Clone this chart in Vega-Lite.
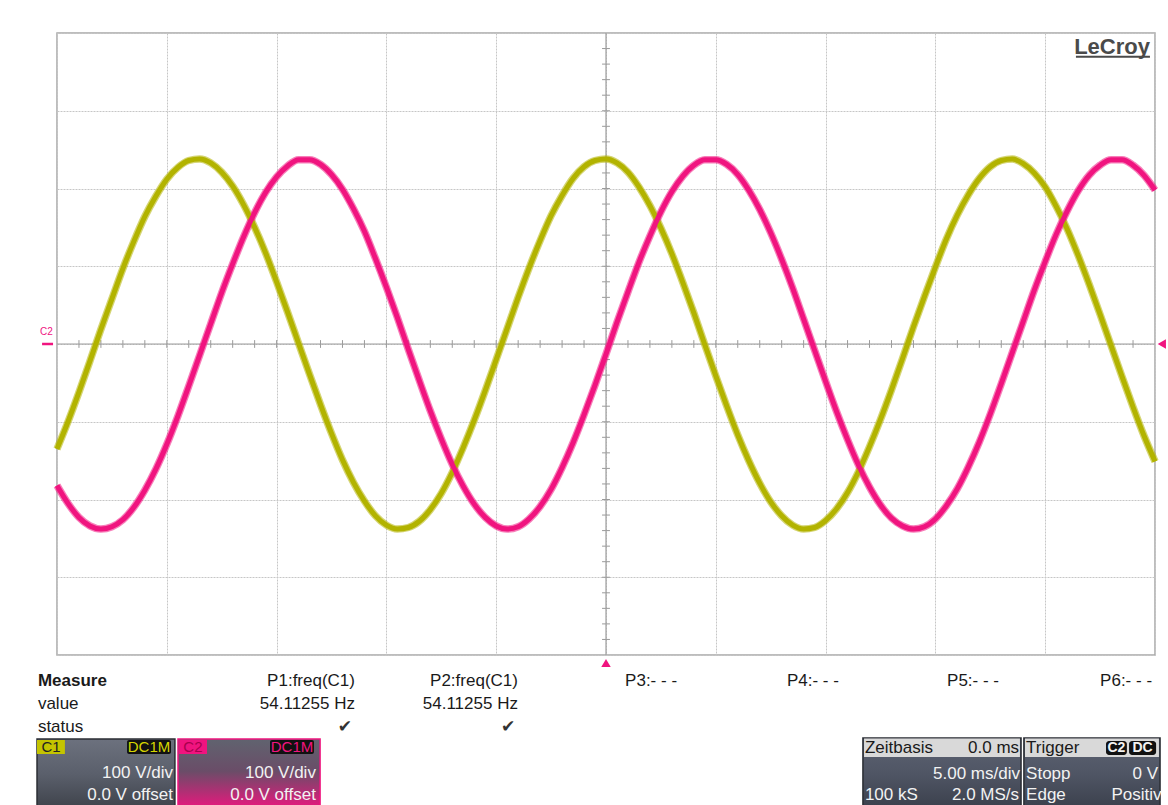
{
  "$schema": "https://vega.github.io/schema/vega-lite/v6.json",
  "autosize": {"type": "none"},
  "width": 1098,
  "height": 622,
  "padding": {"left": 57, "top": 33, "right": 13, "bottom": 150},
  "background": "white",
  "config": {
    "view": {"stroke": "#a8a8a8", "strokeWidth": 1.5},
    "text": {"font": "Liberation Sans", "fontSize": 17, "baseline": "middle", "color": "#1a1a1a"}
  },
  "layer": [
    {
      "data": {"values": [{"t": -24}, {"t": -23}, {"t": -22}, {"t": -21}, {"t": -20}, {"t": -19}, {"t": -18}, {"t": -17}, {"t": -16}, {"t": -15}, {"t": -14}, {"t": -13}, {"t": -12}, {"t": -11}, {"t": -10}, {"t": -9}, {"t": -8}, {"t": -7}, {"t": -6}, {"t": -5}, {"t": -4}, {"t": -3}, {"t": -2}, {"t": -1}, {"t": 1}, {"t": 2}, {"t": 3}, {"t": 4}, {"t": 5}, {"t": 6}, {"t": 7}, {"t": 8}, {"t": 9}, {"t": 10}, {"t": 11}, {"t": 12}, {"t": 13}, {"t": 14}, {"t": 15}, {"t": 16}, {"t": 17}, {"t": 18}, {"t": 19}, {"t": 20}, {"t": 21}, {"t": 22}, {"t": 23}, {"t": 24}]},
      "mark": {"type": "rule", "color": "#9a9a9a", "strokeWidth": 1},
      "encoding": {
        "x": {"field": "t", "type": "quantitative", "scale": {"domain": [-25, 25], "nice": false, "zero": false},
          "axis": {"values": [-25, -20, -15, -10, -5, 0, 5, 10, 15, 20, 25], "grid": true, "labels": false, "ticks": false, "domain": false, "title": null, "gridColor": "#c6c6c6", "gridDash": [2, 1], "gridWidth": 1}},
        "y": {"datum": -5, "scale": {"domain": [-400, 400], "nice": false, "zero": false},
          "axis": {"values": [-400, -300, -200, -100, 0, 100, 200, 300, 400], "grid": true, "labels": false, "ticks": false, "domain": false, "title": null, "gridColor": "#c6c6c6", "gridDash": [2, 1], "gridWidth": 1}},
        "y2": {"datum": 5}
      }
    },
    {
      "data": {"values": [{"v": -380}, {"v": -360}, {"v": -340}, {"v": -320}, {"v": -300}, {"v": -280}, {"v": -260}, {"v": -240}, {"v": -220}, {"v": -200}, {"v": -180}, {"v": -160}, {"v": -140}, {"v": -120}, {"v": -100}, {"v": -80}, {"v": -60}, {"v": -40}, {"v": -20}, {"v": 20}, {"v": 40}, {"v": 60}, {"v": 80}, {"v": 100}, {"v": 120}, {"v": 140}, {"v": 160}, {"v": 180}, {"v": 200}, {"v": 220}, {"v": 240}, {"v": 260}, {"v": 280}, {"v": 300}, {"v": 320}, {"v": 340}, {"v": 360}, {"v": 380}]},
      "mark": {"type": "rule", "color": "#9a9a9a", "strokeWidth": 1},
      "encoding": {
        "y": {"field": "v", "type": "quantitative"},
        "x": {"datum": -0.18},
        "x2": {"datum": 0.18}
      }
    },
    {
      "data": {"values": [{"a": 0}]},
      "mark": {"type": "rule", "color": "#9e9e9e", "strokeWidth": 1.2},
      "encoding": {"y": {"field": "a", "type": "quantitative"}, "x": {"datum": -25}, "x2": {"datum": 25}}
    },
    {
      "data": {"values": [{"a": 0}]},
      "mark": {"type": "rule", "color": "#9e9e9e", "strokeWidth": 1.2},
      "encoding": {"x": {"field": "a", "type": "quantitative"}, "y": {"datum": -400}, "y2": {"datum": 400}}
    },
    {
      "data": {"values": [
        {"t": -25, "C1": -135, "C2": -182}, {"t": -24.5, "C1": -100, "C2": -205}, {"t": -24, "C1": -62, "C2": -223}, {"t": -23.5, "C1": -22, "C2": -234}, {"t": -23, "C1": 19, "C2": -238},
        {"t": -22.5, "C1": 58, "C2": -235}, {"t": -22, "C1": 97, "C2": -226}, {"t": -21.5, "C1": 132, "C2": -210}, {"t": -21, "C1": 164, "C2": -188}, {"t": -20.5, "C1": 190, "C2": -161},
        {"t": -20, "C1": 212, "C2": -129}, {"t": -19.5, "C1": 227, "C2": -93}, {"t": -19, "C1": 236, "C2": -54}, {"t": -18.5, "C1": 238, "C2": -14}, {"t": -18, "C1": 233, "C2": 26},
        {"t": -17.5, "C1": 221, "C2": 66}, {"t": -17, "C1": 203, "C2": 103}, {"t": -16.5, "C1": 179, "C2": 138}, {"t": -16, "C1": 150, "C2": 169}, {"t": -15.5, "C1": 117, "C2": 195},
        {"t": -15, "C1": 80, "C2": 215}, {"t": -14.5, "C1": 41, "C2": 229}, {"t": -14, "C1": 1, "C2": 237}, {"t": -13.5, "C1": -39, "C2": 237}, {"t": -13, "C1": -78, "C2": 231},
        {"t": -12.5, "C1": -115, "C2": 218}, {"t": -12, "C1": -149, "C2": 199}, {"t": -11.5, "C1": -178, "C2": 174}, {"t": -11, "C1": -202, "C2": 145}, {"t": -10.5, "C1": -221, "C2": 110},
        {"t": -10, "C1": -233, "C2": 73}, {"t": -9.5, "C1": -238, "C2": 34}, {"t": -9, "C1": -236, "C2": -7}, {"t": -8.5, "C1": -228, "C2": -47}, {"t": -8, "C1": -213, "C2": -86},
        {"t": -7.5, "C1": -192, "C2": -122}, {"t": -7, "C1": -165, "C2": -155}, {"t": -6.5, "C1": -133, "C2": -183}, {"t": -6, "C1": -98, "C2": -206}, {"t": -5.5, "C1": -60, "C2": -223},
        {"t": -5, "C1": -20, "C2": -234}, {"t": -4.5, "C1": 20, "C2": -238}, {"t": -4, "C1": 60, "C2": -235}, {"t": -3.5, "C1": 98, "C2": -225}, {"t": -3, "C1": 133, "C2": -209},
        {"t": -2.5, "C1": 165, "C2": -187}, {"t": -2, "C1": 191, "C2": -159}, {"t": -1.5, "C1": 213, "C2": -127}, {"t": -1, "C1": 228, "C2": -91}, {"t": -0.5, "C1": 236, "C2": -53},
        {"t": 0, "C1": 238, "C2": -13}, {"t": 0.5, "C1": 233, "C2": 28}, {"t": 1, "C1": 221, "C2": 67}, {"t": 1.5, "C1": 202, "C2": 105}, {"t": 2, "C1": 178, "C2": 139},
        {"t": 2.5, "C1": 149, "C2": 170}, {"t": 3, "C1": 116, "C2": 196}, {"t": 3.5, "C1": 79, "C2": 216}, {"t": 4, "C1": 40, "C2": 230}, {"t": 4.5, "C1": -1, "C2": 237},
        {"t": 5, "C1": -41, "C2": 237}, {"t": 5.5, "C1": -80, "C2": 231}, {"t": 6, "C1": -117, "C2": 218}, {"t": 6.5, "C1": -150, "C2": 198}, {"t": 7, "C1": -179, "C2": 173},
        {"t": 7.5, "C1": -203, "C2": 143}, {"t": 8, "C1": -221, "C2": 109}, {"t": 8.5, "C1": -233, "C2": 72}, {"t": 9, "C1": -238, "C2": 32}, {"t": 9.5, "C1": -236, "C2": -8},
        {"t": 10, "C1": -227, "C2": -48}, {"t": 10.5, "C1": -212, "C2": -87}, {"t": 11, "C1": -191, "C2": -123}, {"t": 11.5, "C1": -164, "C2": -156}, {"t": 12, "C1": -132, "C2": -184},
        {"t": 12.5, "C1": -97, "C2": -207}, {"t": 13, "C1": -59, "C2": -224}, {"t": 13.5, "C1": -19, "C2": -234}, {"t": 14, "C1": 22, "C2": -238}, {"t": 14.5, "C1": 61, "C2": -235},
        {"t": 15, "C1": 99, "C2": -225}, {"t": 15.5, "C1": 135, "C2": -208}, {"t": 16, "C1": 166, "C2": -186}, {"t": 16.5, "C1": 192, "C2": -158}, {"t": 17, "C1": 213, "C2": -126},
        {"t": 17.5, "C1": 228, "C2": -90}, {"t": 18, "C1": 236, "C2": -51}, {"t": 18.5, "C1": 238, "C2": -11}, {"t": 19, "C1": 232, "C2": 29}, {"t": 19.5, "C1": 220, "C2": 69},
        {"t": 20, "C1": 202, "C2": 106}, {"t": 20.5, "C1": 177, "C2": 141}, {"t": 21, "C1": 148, "C2": 171}, {"t": 21.5, "C1": 114, "C2": 197}, {"t": 22, "C1": 77, "C2": 217},
        {"t": 22.5, "C1": 38, "C2": 230}, {"t": 23, "C1": -2, "C2": 237}, {"t": 23.5, "C1": -42, "C2": 237}, {"t": 24, "C1": -81, "C2": 230}, {"t": 24.5, "C1": -118, "C2": 217},
        {"t": 25, "C1": -151, "C2": 198}
      ]},
      "transform": [{"fold": ["C1", "C2"], "as": ["ch", "v"]}],
      "encoding": {
        "x": {"field": "t", "type": "quantitative"},
        "y": {"field": "v", "type": "quantitative"},
        "color": {"field": "ch", "type": "nominal", "scale": {"domain": ["C1", "C2"], "range": ["#b2b300", "#f0147f"]}, "legend": null},
        "order": {"field": "t", "type": "quantitative"}
      },
      "layer": [
        {"mark": {"type": "line", "strokeWidth": 7.5, "interpolate": "monotone", "strokeCap": "butt", "opacity": 0.55}},
        {"mark": {"type": "line", "strokeWidth": 5, "interpolate": "monotone", "strokeCap": "butt"}}
      ]
    },
    {
      "data": {"values": [{"s": "LeCroy"}]},
      "mark": {"type": "text", "align": "right", "fontSize": 22, "fontWeight": "bold", "color": "#4a4a4a"},
      "encoding": {"x": {"datum": 24.77}, "y": {"datum": 382.4}, "text": {"field": "s", "type": "nominal"}}
    },
    {
      "data": {"values": [{}]},
      "mark": {"type": "rule", "color": "#4a4a4a", "strokeWidth": 2},
      "encoding": {"x": {"datum": 21.4}, "x2": {"datum": 24.77}, "y": {"datum": 369.5}}
    },
    {
      "data": {"values": [{"s": "C2"}]},
      "mark": {"type": "text", "align": "center", "fontSize": 10, "color": "#f0147f"},
      "encoding": {"x": {"datum": -25.48}, "y": {"datum": 14.8}, "text": {"field": "s", "type": "nominal"}}
    },
    {
      "data": {"values": [{}]},
      "mark": {"type": "rule", "color": "#f0147f", "strokeWidth": 2.5},
      "encoding": {"x": {"datum": -25.68}, "x2": {"datum": -25.18}, "y": {"datum": 0}}
    },
    {
      "data": {"values": [{}]},
      "mark": {"type": "point", "shape": "triangle-left", "filled": true, "size": 90, "color": "#f0147f", "opacity": 1},
      "encoding": {"x": {"datum": 25.31}, "y": {"datum": 0}}
    },
    {
      "data": {"values": [{}]},
      "mark": {"type": "point", "shape": "triangle-up", "filled": true, "size": 90, "color": "#f0147f", "opacity": 1},
      "encoding": {"x": {"datum": 0}, "y": {"datum": -410.3}}
    },
    {
      "data": {"values": [{"s": "Measure"}]},
      "mark": {"type": "text", "align": "left", "fontWeight": "bold"},
      "encoding": {"x": {"datum": -25.87}, "y": {"datum": -433.4}, "text": {"field": "s", "type": "nominal"}}
    },
    {
      "data": {"values": [{"s": "value"}]},
      "mark": {"type": "text", "align": "left"},
      "encoding": {"x": {"datum": -25.87}, "y": {"datum": -463}, "text": {"field": "s", "type": "nominal"}}
    },
    {
      "data": {"values": [{"s": "status"}]},
      "mark": {"type": "text", "align": "left"},
      "encoding": {"x": {"datum": -25.87}, "y": {"datum": -492.6}, "text": {"field": "s", "type": "nominal"}}
    },
    {
      "data": {"values": [{"s": "P1:freq(C1)"}]},
      "mark": {"type": "text", "align": "right"},
      "encoding": {"x": {"datum": -11.43}, "y": {"datum": -433.4}, "text": {"field": "s", "type": "nominal"}}
    },
    {
      "data": {"values": [{"s": "54.11255 Hz"}]},
      "mark": {"type": "text", "align": "right"},
      "encoding": {"x": {"datum": -11.43}, "y": {"datum": -463}, "text": {"field": "s", "type": "nominal"}}
    },
    {
      "data": {"values": [{"s": "✔"}]},
      "mark": {"type": "text", "align": "center", "font": "DejaVu Sans", "fontSize": 17, "color": "#333333"},
      "encoding": {"x": {"datum": -11.89}, "y": {"datum": -492.6}, "text": {"field": "s", "type": "nominal"}}
    },
    {
      "data": {"values": [{"s": "P2:freq(C1)"}]},
      "mark": {"type": "text", "align": "right"},
      "encoding": {"x": {"datum": -4.01}, "y": {"datum": -433.4}, "text": {"field": "s", "type": "nominal"}}
    },
    {
      "data": {"values": [{"s": "54.11255 Hz"}]},
      "mark": {"type": "text", "align": "right"},
      "encoding": {"x": {"datum": -4.01}, "y": {"datum": -463}, "text": {"field": "s", "type": "nominal"}}
    },
    {
      "data": {"values": [{"s": "✔"}]},
      "mark": {"type": "text", "align": "center", "font": "DejaVu Sans", "fontSize": 17, "color": "#333333"},
      "encoding": {"x": {"datum": -4.46}, "y": {"datum": -492.6}, "text": {"field": "s", "type": "nominal"}}
    },
    {
      "data": {"values": [{"s": "P3:- - -"}]},
      "mark": {"type": "text", "align": "left"},
      "encoding": {"x": {"datum": 0.87}, "y": {"datum": -433.4}, "text": {"field": "s", "type": "nominal"}}
    },
    {
      "data": {"values": [{"s": "P4:- - -"}]},
      "mark": {"type": "text", "align": "left"},
      "encoding": {"x": {"datum": 8.24}, "y": {"datum": -433.4}, "text": {"field": "s", "type": "nominal"}}
    },
    {
      "data": {"values": [{"s": "P5:- - -"}]},
      "mark": {"type": "text", "align": "left"},
      "encoding": {"x": {"datum": 15.53}, "y": {"datum": -433.4}, "text": {"field": "s", "type": "nominal"}}
    },
    {
      "data": {"values": [{"s": "P6:- - -"}]},
      "mark": {"type": "text", "align": "left"},
      "encoding": {"x": {"datum": 22.5}, "y": {"datum": -433.4}, "text": {"field": "s", "type": "nominal"}}
    },
    {
      "data": {"values": [{}]},
      "mark": {"type": "rect", "stroke": "#2a2d33", "strokeWidth": 1.5,
        "fill": {"gradient": "linear", "x1": 0, "y1": 0, "x2": 0, "y2": 1, "stops": [{"offset": 0, "color": "#6c717e"}, {"offset": 0.5, "color": "#5a5f6b"}, {"offset": 1, "color": "#3d4149"}]}},
      "encoding": {"x": {"datum": -25.91}, "x2": {"datum": -19.63}, "y": {"datum": -508}, "y2": {"datum": -600}}
    },
    {
      "data": {"values": [{}]},
      "mark": {"type": "rect", "stroke": "#f0147f", "strokeWidth": 1.5,
        "fill": {"gradient": "linear", "x1": 0, "y1": 0, "x2": 0, "y2": 1, "stops": [{"offset": 0, "color": "#60636f"}, {"offset": 0.45, "color": "#6a4d68"}, {"offset": 1, "color": "#f0147f"}]}},
      "encoding": {"x": {"datum": -19.49}, "x2": {"datum": -13.02}, "y": {"datum": -508}, "y2": {"datum": -600}}
    },
    {
      "data": {"values": [{}]},
      "mark": {"type": "rect", "fill": "#c4c400"},
      "encoding": {"x": {"datum": -25.91}, "x2": {"datum": -24.64}, "y": {"datum": -509.3}, "y2": {"datum": -527.3}}
    },
    {
      "data": {"values": [{"s": "C1"}]},
      "mark": {"type": "text", "align": "center", "fontSize": 15, "color": "#222222"},
      "encoding": {"x": {"datum": -25.27}, "y": {"datum": -518.3}, "text": {"field": "s", "type": "nominal"}}
    },
    {
      "data": {"values": [{}]},
      "mark": {"type": "rect", "fill": "#111111", "cornerRadius": 2},
      "encoding": {"x": {"datum": -21.81}, "x2": {"datum": -19.81}, "y": {"datum": -509.3}, "y2": {"datum": -527.3}}
    },
    {
      "data": {"values": [{"s": "DC1M"}]},
      "mark": {"type": "text", "align": "center", "fontSize": 15, "color": "#d6d600"},
      "encoding": {"x": {"datum": -20.81}, "y": {"datum": -518.3}, "text": {"field": "s", "type": "nominal"}}
    },
    {
      "data": {"values": [{"s": "100 V/div"}]},
      "mark": {"type": "text", "align": "right", "color": "#f2f2f2"},
      "encoding": {"x": {"datum": -19.72}, "y": {"datum": -551.8}, "text": {"field": "s", "type": "nominal"}}
    },
    {
      "data": {"values": [{"s": "0.0 V offset"}]},
      "mark": {"type": "text", "align": "right", "color": "#f2f2f2"},
      "encoding": {"x": {"datum": -19.72}, "y": {"datum": -580.1}, "text": {"field": "s", "type": "nominal"}}
    },
    {
      "data": {"values": [{}]},
      "mark": {"type": "rect", "fill": "#f0147f"},
      "encoding": {"x": {"datum": -19.44}, "x2": {"datum": -18.17}, "y": {"datum": -509.3}, "y2": {"datum": -527.3}}
    },
    {
      "data": {"values": [{"s": "C2"}]},
      "mark": {"type": "text", "align": "center", "fontSize": 15, "color": "#a8004e"},
      "encoding": {"x": {"datum": -18.81}, "y": {"datum": -518.3}, "text": {"field": "s", "type": "nominal"}}
    },
    {
      "data": {"values": [{}]},
      "mark": {"type": "rect", "fill": "#111111", "cornerRadius": 2},
      "encoding": {"x": {"datum": -15.3}, "x2": {"datum": -13.3}, "y": {"datum": -509.3}, "y2": {"datum": -527.3}}
    },
    {
      "data": {"values": [{"s": "DC1M"}]},
      "mark": {"type": "text", "align": "center", "fontSize": 15, "color": "#f0147f"},
      "encoding": {"x": {"datum": -14.3}, "y": {"datum": -518.3}, "text": {"field": "s", "type": "nominal"}}
    },
    {
      "data": {"values": [{"s": "100 V/div"}]},
      "mark": {"type": "text", "align": "right", "color": "#f2f2f2"},
      "encoding": {"x": {"datum": -13.21}, "y": {"datum": -551.8}, "text": {"field": "s", "type": "nominal"}}
    },
    {
      "data": {"values": [{"s": "0.0 V offset"}]},
      "mark": {"type": "text", "align": "right", "color": "#f2f2f2"},
      "encoding": {"x": {"datum": -13.21}, "y": {"datum": -580.1}, "text": {"field": "s", "type": "nominal"}}
    },
    {
      "data": {"values": [{}]},
      "mark": {"type": "rect", "stroke": "#2a2d33", "strokeWidth": 1.5,
        "fill": {"gradient": "linear", "x1": 0, "y1": 0, "x2": 0, "y2": 1, "stops": [{"offset": 0, "color": "#5d6373"}, {"offset": 0.5, "color": "#4f5564"}, {"offset": 1, "color": "#3a3f4b"}]}},
      "encoding": {"x": {"datum": 11.7}, "x2": {"datum": 18.9}, "y": {"datum": -506.8}, "y2": {"datum": -600}}
    },
    {
      "data": {"values": [{}]},
      "mark": {"type": "rect", "stroke": "#2a2d33", "strokeWidth": 1.5,
        "fill": {"gradient": "linear", "x1": 0, "y1": 0, "x2": 0, "y2": 1, "stops": [{"offset": 0, "color": "#5d6373"}, {"offset": 0.5, "color": "#4f5564"}, {"offset": 1, "color": "#3a3f4b"}]}},
      "encoding": {"x": {"datum": 19.03}, "x2": {"datum": 25.23}, "y": {"datum": -506.8}, "y2": {"datum": -600}}
    },
    {
      "data": {"values": [{}]},
      "mark": {"type": "rect", "fill": "#d9d9d9"},
      "encoding": {"x": {"datum": 11.75}, "x2": {"datum": 18.85}, "y": {"datum": -507.5}, "y2": {"datum": -531.2}}
    },
    {
      "data": {"values": [{}]},
      "mark": {"type": "rect", "fill": "#d9d9d9"},
      "encoding": {"x": {"datum": 19.08}, "x2": {"datum": 25.18}, "y": {"datum": -507.5}, "y2": {"datum": -531.2}}
    },
    {
      "data": {"values": [{"s": "Zeitbasis"}]},
      "mark": {"type": "text", "align": "left"},
      "encoding": {"x": {"datum": 11.79}, "y": {"datum": -519.6}, "text": {"field": "s", "type": "nominal"}}
    },
    {
      "data": {"values": [{"s": "0.0 ms"}]},
      "mark": {"type": "text", "align": "right"},
      "encoding": {"x": {"datum": 18.81}, "y": {"datum": -519.6}, "text": {"field": "s", "type": "nominal"}}
    },
    {
      "data": {"values": [{"s": "5.00 ms/div"}]},
      "mark": {"type": "text", "align": "right", "color": "#f2f2f2"},
      "encoding": {"x": {"datum": 18.85}, "y": {"datum": -553.1}, "text": {"field": "s", "type": "nominal"}}
    },
    {
      "data": {"values": [{"s": "100 kS"}]},
      "mark": {"type": "text", "align": "left", "color": "#f2f2f2"},
      "encoding": {"x": {"datum": 11.79}, "y": {"datum": -580.1}, "text": {"field": "s", "type": "nominal"}}
    },
    {
      "data": {"values": [{"s": "2.0 MS/s"}]},
      "mark": {"type": "text", "align": "right", "color": "#f2f2f2"},
      "encoding": {"x": {"datum": 18.81}, "y": {"datum": -580.1}, "text": {"field": "s", "type": "nominal"}}
    },
    {
      "data": {"values": [{"s": "Trigger"}]},
      "mark": {"type": "text", "align": "left"},
      "encoding": {"x": {"datum": 19.13}, "y": {"datum": -519.6}, "text": {"field": "s", "type": "nominal"}}
    },
    {
      "data": {"values": [{}]},
      "mark": {"type": "rect", "fill": "#111111", "cornerRadius": 3},
      "encoding": {"x": {"datum": 22.77}, "x2": {"datum": 23.72}, "y": {"datum": -510.6}, "y2": {"datum": -528.6}}
    },
    {
      "data": {"values": [{}]},
      "mark": {"type": "rect", "fill": "#111111", "cornerRadius": 3},
      "encoding": {"x": {"datum": 23.82}, "x2": {"datum": 25.05}, "y": {"datum": -510.6}, "y2": {"datum": -528.6}}
    },
    {
      "data": {"values": [{"s": "C2"}]},
      "mark": {"type": "text", "align": "center", "fontSize": 14, "fontWeight": "bold", "color": "#f2f2f2"},
      "encoding": {"x": {"datum": 23.245}, "y": {"datum": -519.6}, "text": {"field": "s", "type": "nominal"}}
    },
    {
      "data": {"values": [{"s": "DC"}]},
      "mark": {"type": "text", "align": "center", "fontSize": 14, "fontWeight": "bold", "color": "#f2f2f2"},
      "encoding": {"x": {"datum": 24.435}, "y": {"datum": -519.6}, "text": {"field": "s", "type": "nominal"}}
    },
    {
      "data": {"values": [{"s": "Stopp"}]},
      "mark": {"type": "text", "align": "left", "color": "#f2f2f2"},
      "encoding": {"x": {"datum": 19.13}, "y": {"datum": -553.1}, "text": {"field": "s", "type": "nominal"}}
    },
    {
      "data": {"values": [{"s": "0 V"}]},
      "mark": {"type": "text", "align": "right", "color": "#f2f2f2"},
      "encoding": {"x": {"datum": 25.14}, "y": {"datum": -553.1}, "text": {"field": "s", "type": "nominal"}}
    },
    {
      "data": {"values": [{"s": "Edge"}]},
      "mark": {"type": "text", "align": "left", "color": "#f2f2f2"},
      "encoding": {"x": {"datum": 19.13}, "y": {"datum": -580.1}, "text": {"field": "s", "type": "nominal"}}
    },
    {
      "data": {"values": [{"s": "Positiv"}]},
      "mark": {"type": "text", "align": "right", "color": "#f2f2f2"},
      "encoding": {"x": {"datum": 25.3}, "y": {"datum": -580.1}, "text": {"field": "s", "type": "nominal"}}
    }
  ]
}
